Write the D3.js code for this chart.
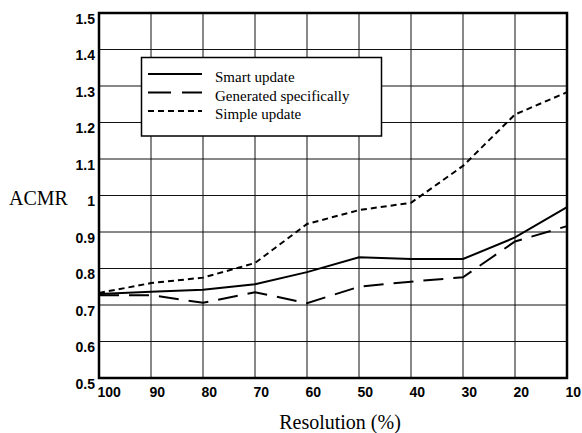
<!DOCTYPE html>
<html>
<head>
<meta charset="utf-8">
<script src="https://cdn.jsdelivr.net/npm/d3@7"></script>
<style>
  body { margin: 0; background: #fff; }
  svg { display: block; }
  .tick-label { font-family: "Liberation Sans", Arial, sans-serif; font-weight: bold; font-size: 14px; fill: #000; }
  .serif { font-family: "Liberation Serif", "Times New Roman", serif; fill: #000; }
</style>
</head>
<body>
<div id="chart"></div>
<script>
// data
var resolution = [100, 90, 80, 70, 60, 50, 40, 30, 20, 10];
var smartUpdate = [0.730, 0.736, 0.742, 0.757, 0.790, 0.831, 0.826, 0.826, 0.885, 0.968];
var generatedSpecifically = [0.727, 0.727, 0.706, 0.735, 0.705, 0.750, 0.764, 0.776, 0.874, 0.916];
var simpleUpdate = [0.733, 0.760, 0.775, 0.815, 0.922, 0.960, 0.980, 1.081, 1.222, 1.283];
var yTicks = [0.5, 0.6, 0.7, 0.8, 0.9, 1, 1.1, 1.2, 1.3, 1.4, 1.5];
var seriesNames = ["Smart update", "Generated specifically", "Simple update"];

var width = 582, height = 433;
var plotLeft = 99, plotRight = 567, plotTop = 13, plotBottom = 378;

var svg = d3.select("#chart")
    .append("svg")
    .attr("width", width)
    .attr("height", height);

var x = d3.scaleLinear().domain([100, 10]).range([plotLeft, plotRight]);
var y = d3.scaleLinear().domain([0.5, 1.5]).range([plotBottom, plotTop]);

//grid
var grid = svg.append("g");
grid.selectAll(".vgrid")
    .data(resolution.slice(1, -1))
    .enter().append("line")
    .attr("x1", function(d){return x(d)})
    .attr("x2", function(d){return x(d)})
    .attr("y1", plotTop)
    .attr("y2", plotBottom)
    .attr("stroke", "#111")
    .attr("stroke-width", 1);
grid.selectAll(".hgrid")
    .data(yTicks.slice(1, -1))
    .enter().append("line")
    .attr("x1", plotLeft)
    .attr("x2", plotRight)
    .attr("y1", function(d){return y(d)})
    .attr("y2", function(d){return y(d)})
    .attr("stroke", "#111")
    .attr("stroke-width", 1);

//axes (labels only, frame drawn below)
var yAxis = svg.append("g")
    .attr("transform", "translate(" + (plotLeft - 4) + ",0)")
    .call(d3.axisLeft(y).tickValues(yTicks).tickSize(0).tickPadding(0)
        .tickFormat(function(d){return d === 1 ? "1" : d3.format(".1f")(d)}));
yAxis.select(".domain").remove();
yAxis.selectAll("text")
    .attr("class", "tick-label")
    .attr("x", 0)
    .attr("dy", "10")
    .attr("text-anchor", "end");

var xAxis = svg.append("g")
    .attr("transform", "translate(0," + plotBottom + ")")
    .call(d3.axisBottom(x).tickValues(resolution).tickSize(0).tickPadding(0));
xAxis.select(".domain").remove();
xAxis.selectAll("text")
    .attr("class", "tick-label")
    .attr("x", -2)
    .attr("y", 18.5)
    .attr("dy", 0)
    .attr("text-anchor", "start");

//frame
svg.append("rect")
    .attr("x", plotLeft)
    .attr("y", plotTop)
    .attr("width", plotRight - plotLeft)
    .attr("height", plotBottom - plotTop)
    .attr("fill", "none")
    .attr("stroke", "#000")
    .attr("stroke-width", 2.5);

//lines
var line = d3.line()
    .x(function(d){return x(d.r)})
    .y(function(d){return y(d.v)});

function pts(vals){
    return resolution.map(function(r, i){return {r: r, v: vals[i]}});
}

var dashes = [null, "20,10", "6,4"];
var allSeries = [smartUpdate, generatedSpecifically, simpleUpdate];

allSeries.forEach(function(vals, i){
    svg.append("path")
        .datum(pts(vals))
        .attr("d", line)
        .attr("fill", "none")
        .attr("stroke", "#000")
        .attr("stroke-width", 2)
        .attr("stroke-dasharray", dashes[i]);
});

//legend
var legend = svg.append("g");
legend.append("rect")
    .attr("x", 141.5)
    .attr("y", 57.5)
    .attr("width", 240)
    .attr("height", 78.5)
    .attr("fill", "#fff")
    .attr("stroke", "#000")
    .attr("stroke-width", 1.5);

for(var i=0; i<seriesNames.length; i++){
    var ly = 74 + i*18.5;
    legend.append("line")
        .attr("x1", 148)
        .attr("x2", 202)
        .attr("y1", ly)
        .attr("y2", ly)
        .attr("stroke", "#000")
        .attr("stroke-width", 2)
        .attr("stroke-dasharray", i == 1 ? "23,11" : dashes[i]);
    legend.append("text")
        .attr("class", "serif")
        .attr("x", 215)
        .attr("y", ly + 8)
        .attr("font-size", 15)
        .text(seriesNames[i]);
}

//axis titles
svg.append("text")
    .attr("class", "serif")
    .attr("x", 9)
    .attr("y", 205)
    .attr("font-size", 20)
    .text("ACMR");

svg.append("text")
    .attr("class", "serif")
    .attr("x", 340)
    .attr("y", 429)
    .attr("font-size", 20)
    .attr("text-anchor", "middle")
    .text("Resolution (%)");
</script>
</body>
</html>
